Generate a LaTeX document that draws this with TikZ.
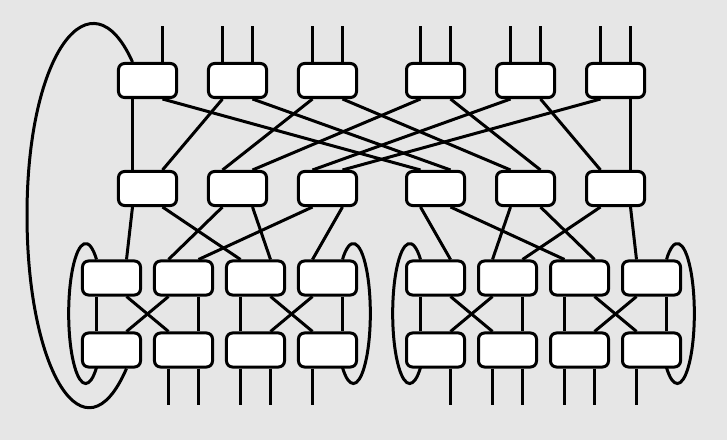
\documentclass[tikz,border=0pt]{standalone}
\usetikzlibrary{calc}
\definecolor{bggray}{RGB}{230,230,230}
\tikzset{
  swbox/.style={draw, fill=white, rounded corners=0.15cm,
    minimum width=1.45cm, minimum height=0.85cm, inner sep=0pt}
}
\def\pd{0.375cm}
\begin{document}
\begin{tikzpicture}[x=0.025cm, y=0.025cm, line width=0.075cm]
    \useasboundingbox (0,0) rectangle (727,440);
    \fill[bggray] (0,0) rectangle (727,440);

    % switch boxes
    \foreach \x [count=\i] in {147.5,237.5,327.5,435.5,525.5,615.5} {
        \node[swbox] (t\i) at (\x,359.5) {};
        \node[swbox] (m\i) at (\x,251.5) {};
    }
    \foreach \x [count=\i] in {111.5,183.5,255.5,327.5,435.5,507.5,579.5,651.5} {
        \node[swbox] (a\i) at (\x,162) {};
        \node[swbox] (b\i) at (\x,90) {};
    }

    % inputs and outputs
    \foreach \i/\s in {1/1,2/-1,2/1,3/-1,3/1,4/-1,4/1,5/-1,5/1,6/-1,6/1}
        \draw ([xshift=\s*\pd]t\i.north) -- ++(0,36);
    \foreach \i/\s in {2/-1,2/1,3/-1,3/1,4/-1,5/1,6/-1,6/1,7/-1,7/1,8/-1}
        \draw ([xshift=\s*\pd]b\i.south) -- ++(0,-36);

    % top stage -> middle stage
    \foreach \i/\s/\j/\r in {1/-1/1/-1, 1/1/4/-1, 2/-1/1/1, 2/1/4/1,
                             3/-1/2/-1, 3/1/5/-1, 4/-1/2/1, 4/1/5/1,
                             5/-1/3/-1, 5/1/6/-1, 6/-1/3/1, 6/1/6/1}
        \draw ([xshift=\s*\pd]t\i.south) -- ([xshift=\r*\pd]m\j.north);

    % middle stage -> third stage
    \foreach \i/\s/\j/\r in {1/-1/1/1, 1/1/3/-1, 2/-1/2/-1, 2/1/3/1,
                             3/-1/2/1, 3/1/4/-1, 4/-1/5/1, 4/1/7/-1,
                             5/-1/6/-1, 5/1/7/1, 6/-1/6/1, 6/1/8/-1}
        \draw ([xshift=\s*\pd]m\i.south) -- ([xshift=\r*\pd]a\j.north);

    % 2x2 crossings
    \foreach \k [evaluate=\k as \n using int(\k+1)] in {1,3,5,7} {
        \draw ([xshift=-\pd]a\k.south) -- ([xshift=-\pd]b\k.north);
        \draw ([xshift=\pd]a\k.south) -- ([xshift=-\pd]b\n.north);
        \draw ([xshift=-\pd]a\n.south) -- ([xshift=\pd]b\k.north);
        \draw ([xshift=\pd]a\n.south) -- ([xshift=\pd]b\n.north);
    }

    % loops
    \foreach \k in {1,5}
        \draw ([xshift=-\pd]a\k.north) arc[start angle=50.5, end angle=309.5,
            x radius=0.425cm, y radius=1.75cm];
    \foreach \k in {4,8}
        \draw ([xshift=\pd]a\k.north) arc[start angle=129.5, end angle=-129.5,
            x radius=0.425cm, y radius=1.75cm];
    \draw ([xshift=-\pd]t1.north) .. controls (91.4,470) and (27,388.8) .. (27,225)
        .. controls (27,68.1) and (84.9,-25) .. ([xshift=\pd]b1.south);
\end{tikzpicture}
\end{document}
